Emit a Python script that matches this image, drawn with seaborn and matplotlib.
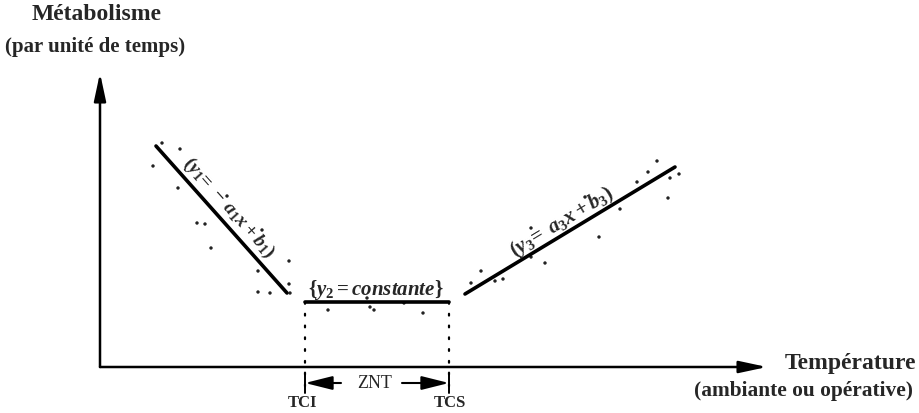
import matplotlib
matplotlib.use("Agg")
import matplotlib.pyplot as plt
import seaborn as sns
import pandas as pd
import numpy as np

sns.set_theme(style="white")
plt.rcParams['font.family'] = ['Liberation Serif', 'DejaVu Serif']
plt.rcParams['mathtext.fontset'] = 'custom'
plt.rcParams['mathtext.rm'] = 'Liberation Serif:bold'
plt.rcParams['mathtext.it'] = 'Liberation Serif:italic:bold'
plt.rcParams['mathtext.bf'] = 'Liberation Serif:bold'

# ---- data (schematic units: origin = axes corner) ----
cold_x = [62, 80, 53, 78, 127, 97, 105, 162, 111, 189, 158, 189, 158, 170]
cold_y = [224, 218, 201, 179, 171, 144, 143, 137, 119, 106, 96, 83, 75, 74]
neutral_x = [190, 228, 270, 274, 304, 323, 267]
neutral_y = [74, 57, 60, 57, 64, 54, 69]
hot_x = [371, 381, 395, 403, 431, 445, 431, 485, 499, 520, 537, 548, 557, 568, 570, 579]
hot_y = [84, 96, 86, 88, 110, 104, 139, 170, 130, 158, 185, 195, 206, 169, 189, 193]

line1_x = [56, 187]
line1_y = [221, 74]
line2_x = [205, 349]
line2_y = [65, 65]
line3_x = [365, 575]
line3_y = [73, 200]

TCI = 205
TCS = 349

pts = pd.DataFrame({
    'x': cold_x + neutral_x + hot_x,
    'y': cold_y + neutral_y + hot_y,
})

fig = plt.figure(figsize=(9.19, 4.13), dpi=100)
ax = fig.add_axes([0, 0, 1, 1])
ax.set_xlim(-100, 819)
ax.set_ylim(-46, 367)
ax.axis('off')

sns.scatterplot(data=pts, x='x', y='y', ax=ax, s=6, color='#222222',
                edgecolor='none', legend=False)
for lx, ly in [(line1_x, line1_y), (line2_x, line2_y), (line3_x, line3_y)]:
    sns.lineplot(x=lx, y=ly, ax=ax, color='black', lw=2.6, sort=False,
                 estimator=None)

# axes with arrows
ap = dict(arrowstyle='-|>,head_length=1.4,head_width=0.3', color='black',
          lw=1.8, mutation_scale=12, shrinkA=0, shrinkB=0)
ax.annotate('', xy=(0, 294), xytext=(0, 0), arrowprops=ap)
ax.annotate('', xy=(667, 0), xytext=(0, 0), arrowprops=ap)

# dotted verticals
for xv in (TCI, TCS):
    ax.plot([xv, xv], [line2_y[0], -25], color='black', lw=1.6,
            linestyle=(0, (0.8, 4.5)), solid_capstyle='round',
            dash_capstyle='round')
    ax.plot([xv, xv], [-7, -26], color='black', lw=1.4)

# ZNT arrows
zy = -16
ap2 = dict(arrowstyle='-|>,head_length=1.4,head_width=0.35', color='black',
           lw=1.5, mutation_scale=12, shrinkA=0, shrinkB=0)
ax.annotate('', xy=(TCI, zy), xytext=(241, zy), arrowprops=ap2)
ax.annotate('', xy=(TCS, zy), xytext=(302, zy), arrowprops=ap2)
ax.text(275, zy, 'ZNT', ha='center', va='center', fontsize=13)
ax.text(TCI - 3, -36, 'TCI', ha='center', va='center', fontsize=12, fontweight='bold')
ax.text(TCS + 1, -36, 'TCS', ha='center', va='center', fontsize=12, fontweight='bold')

# axis titles
ax.text(-3, 352, 'Métabolisme', ha='center', va='center', fontsize=17, fontweight='bold')
ax.text(-5, 320, '(par unité de temps)', ha='center', va='center', fontsize=15, fontweight='bold')
ax.text(750, 4, 'Température', ha='center', va='center', fontsize=17, fontweight='bold')
ax.text(704, -24, '(ambiante ou opérative)', ha='center', va='center', fontsize=15.4, fontweight='bold')

# equations along the lines
ax.text(128, 159, r'$(y_1\!=\,-\,a_1x + b_1)$', ha='center', va='center',
        rotation=-48.3, rotation_mode='anchor', fontsize=14)
ax.text(276, 77, r'$\{y_2 = constante\}$', ha='center', va='center', fontsize=15)
ax.text(462, 145, r'$(y_3\!=\;a_3x + b_3)$', ha='center', va='center',
        rotation=31.2, rotation_mode='anchor', fontsize=15)

fig.savefig('out.png', dpi=100)
